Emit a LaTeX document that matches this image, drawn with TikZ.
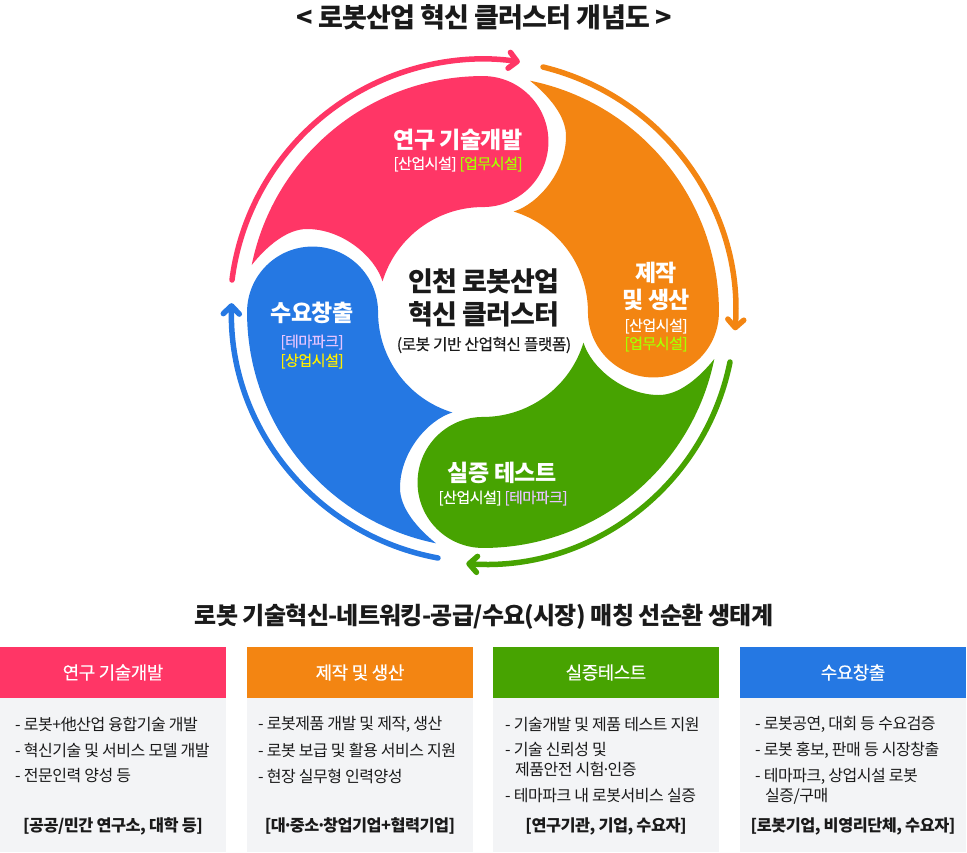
\documentclass[tikz,border=0pt]{standalone}
\usepackage{fontspec}
\setmainfont{Noto Sans CJK KR}[LetterSpace=-3]
\newfontfamily\medfont{Noto Sans CJK KR}[LetterSpace=-3,FakeBold=0.3]
\usetikzlibrary{arrows.meta,positioning}
\definecolor{rndpink}{HTML}{FF3666}
\definecolor{makeorange}{HTML}{F38512}
\definecolor{testgreen}{HTML}{47A301}
\definecolor{demandblue}{HTML}{2578E3}
\definecolor{bodygrey}{HTML}{F3F4F6}
\definecolor{limetext}{HTML}{A8FF00}
\definecolor{lilactext}{HTML}{E6C4FF}
\definecolor{yellowtext}{HTML}{FFEE00}
\definecolor{inktext}{HTML}{1A1A1A}
\tikzset{
	blade/.style={insert path={
		(-231.3,47) arc[start angle=168.5,end angle=90,radius=236]
		arc[start angle=90,end angle=-90,radius=65.5]
		arc[start angle=90,end angle=163,radius=105]
		.. controls (-108,55) and (-140,83) .. (-176,83)
		.. controls (-196,83) and (-216,66) .. cycle}},
	ring/.style={line width=5.5pt,line cap=round,line join=round,-{Straight Barb[length=8pt,width=16pt,round]}},
	bigtext/.style={font=\bfseries\fontsize{#1}{#1}\selectfont,inner sep=0pt,text=inktext},
	whitebig/.style={font=\bfseries\fontsize{23}{23}\selectfont,inner sep=0pt,text=white},
	tagtext/.style={font=\medfont\fontsize{15}{15}\selectfont,inner sep=0pt,text=white},
	headbox/.style={fill=#1,minimum width=226pt,minimum height=51pt,inner sep=0pt,text=white,font=\medfont\fontsize{18}{18}\selectfont},
	bodybox/.style={fill=bodygrey,minimum width=226pt,minimum height=154pt,inner sep=0pt},
	itemtext/.style={anchor=west,inner sep=0pt,text=inktext,font=\fontsize{16}{20}\selectfont,align=left},
	whotext/.style={inner sep=0pt,text=inktext,font=\bfseries\fontsize{16.3}{16.3}\selectfont}
}
\begin{document}
\begin{tikzpicture}[x=1pt,y=1pt]
	\useasboundingbox (0,0) rectangle (967,-852);
	\node[bigtext=27] (title) at (484,-17) {< 로봇산업 혁신 클러스터 개념도 >};
	% pinwheel
	\begin{scope}[shift={(483,-312)}]
		\fill[rndpink,blade];
		\fill[makeorange,rotate=-90,blade];
		\fill[testgreen,rotate=-180,blade];
		\fill[demandblue,rotate=-270,blade];
		\draw[ring,rndpink] (-251,32) arc[start angle=172.7,end angle=81.6,radius=253];
		\draw[ring,makeorange] (60,245) arc[start angle=76.2,end angle=-4,radius=253];
		\draw[ring,testgreen] (247,-50) arc[start angle=-11.4,end angle=-93.8,radius=252];
		\draw[ring,demandblue] (-45,-246) arc[start angle=-100.4,end angle=-181.6,radius=252];
	\end{scope}
	% labels on the wheel
	\node[bigtext=27] (hub1) at (484,-281) {인천 로봇산업};
	\node[bigtext=27] (hub2) at (484,-314) {혁신 클러스터};
	\node[inner sep=0pt,text=inktext,font=\medfont\fontsize{15.7}{15.7}\selectfont] (hub3) at (484,-345) {(로봇 기반 산업혁신 플랫폼)};
	\node[whitebig] (rnd) at (458,-140) {연구 기술개발};
	\node[tagtext] (rndtag) at (458,-164) {[산업시설] \textcolor{limetext}{[업무시설]}};
	\node[whitebig] (make1) at (656,-273) {제작};
	\node[whitebig] (make2) at (656,-300) {및 생산};
	\node[tagtext] (maketag1) at (656,-326) {[산업시설]};
	\node[tagtext,text=limetext] (maketag2) at (656,-344) {[업무시설]};
	\node[whitebig] (test) at (502,-473) {실증 테스트};
	\node[tagtext] (testtag) at (503,-498) {[산업시설] \textcolor{lilactext}{[테마파크]}};
	\node[whitebig] (need) at (312,-313) {수요창출};
	\node[tagtext,text=lilactext] (needtag1) at (312,-342) {[테마파크]};
	\node[tagtext,text=yellowtext] (needtag2) at (312,-361) {[상업시설]};
	\node[bigtext=24] (sub) at (484,-617) {로봇 기술혁신-네트워킹-공급/수요(시장) 매칭 선순환 생태계};
	% table
	\node[headbox=rndpink] (h1) at (113,-672.5) {연구 기술개발};
	\node[headbox=makeorange] (h2) at (360,-672.5) {제작 및 생산};
	\node[headbox=testgreen] (h3) at (606,-672.5) {실증테스트};
	\node[headbox=demandblue] (h4) at (853,-672.5) {수요창출};
	\node[bodybox,below=0pt of h1] (b1) {};
	\node[bodybox,below=0pt of h2] (b2) {};
	\node[bodybox,below=0pt of h3] (b3) {};
	\node[bodybox,below=0pt of h4] (b4) {};
	\node[itemtext] (a1) at (15,-724) {- 로봇+他산업 융합기술 개발};
	\node[itemtext] (a2) at (15,-750) {- 혁신기술 및 서비스 모델 개발};
	\node[itemtext] (a3) at (15,-776) {- 전문인력 양성 등};
	\node[whotext] (a4) at (113,-826) {[공공/민간 연구소, 대학 등]};
	\node[itemtext] (c1) at (258,-724) {- 로봇제품 개발 및 제작, 생산};
	\node[itemtext] (c2) at (258,-750) {- 로봇 보급 및 활용 서비스 지원};
	\node[itemtext] (c3) at (258,-776) {- 현장 실무형 인력양성};
	\node[whotext] (c4) at (360,-826) {[대\kern-3pt·\kern-3pt중소\kern-3pt·\kern-3pt창업기업+협력기업]};
	\node[itemtext] (d1) at (505,-724) {- 기술개발 및 제품 테스트 지원};
	\node[itemtext] (d2) at (505,-760) {- 기술 신뢰성 및\\\hspace*{10pt}제품안전 시험\kern-3pt·\kern-3pt인증};
	\node[itemtext] (d3) at (505,-796) {- 테마파크 내 로봇서비스 실증};
	\node[whotext] (d4) at (606,-826) {[연구기관, 기업, 수요자]};
	\node[itemtext] (e1) at (755,-724) {- 로봇공연, 대회 등 수요검증};
	\node[itemtext] (e2) at (755,-750) {- 로봇 홍보, 판매 등 시장창출};
	\node[itemtext] (e3) at (755,-786) {- 테마파크, 상업시설 로봇\\\hspace*{10pt}실증/구매};
	\node[whotext] (e4) at (853,-826) {[로봇기업, 비영리단체, 수요자]};
\end{tikzpicture}
\end{document}
